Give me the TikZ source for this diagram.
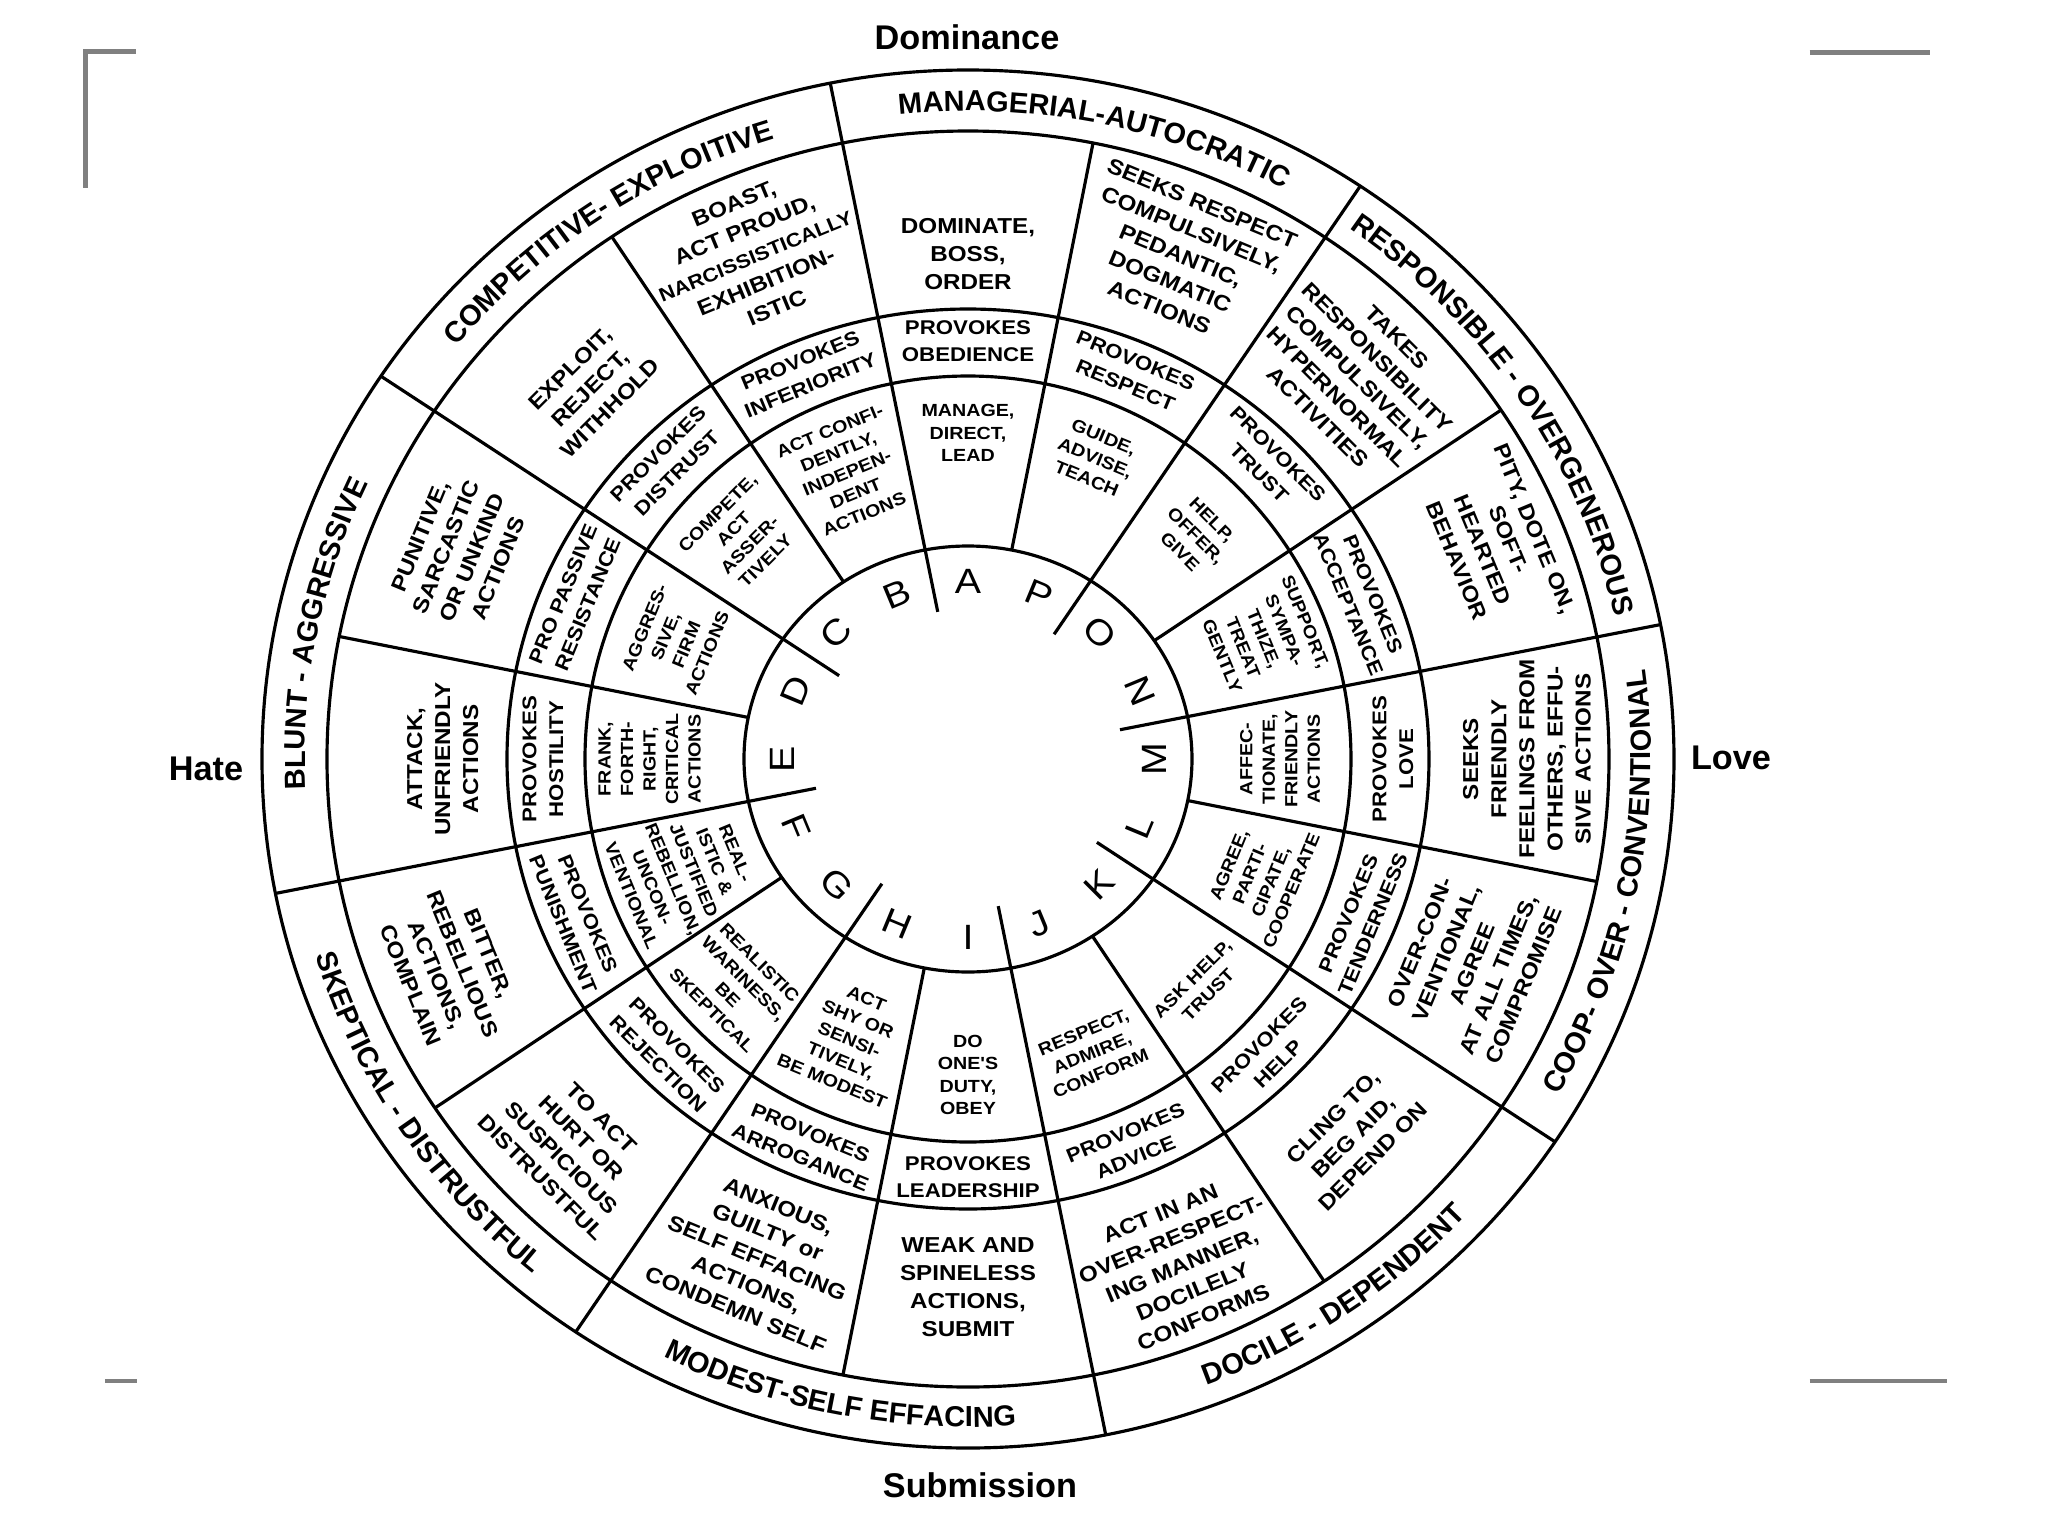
\documentclass[tikz,border=0pt]{standalone}
\usepackage{fontspec}
\setmainfont{Liberation Sans}
\newfontfamily\lettering[FakeStretch=1.12]{Liberation Sans}
\usetikzlibrary{decorations.text}

\newcommand\midfont{\fontsize{12.3}{16}\lettering\bfseries}
\newcommand\provfont{\fontsize{11.3}{15.2}\lettering\bfseries}
\newcommand\innfont{\fontsize{10}{12.8}\lettering\bfseries}
\newcommand\ringfont{\fontsize{16.5}{16.5}\selectfont\bfseries}
\newcommand\keyfont{\fontsize{20}{20}\lettering}
\newcommand\axisfont{\fontsize{19.5}{19.5}\selectfont\bfseries}

\begin{document}
\begin{tikzpicture}[x=0.02cm,y=0.02cm,
  ring/.style={line width=1.8pt},
  cropmark/.style={draw=gray,line width=2.3pt},
  midtext/.style={font=\midfont,align=center,inner sep=0pt},
  provtext/.style={font=\provfont,align=center,inner sep=0pt},
  inntext/.style={font=\innfont,align=center,inner sep=0pt},
  ringlabel/.style={decorate,decoration={text along path,text align=center}}]
\useasboundingbox (-968,-777) rectangle (1080,759);

% circles and spokes
\draw[ring] (0,0) ellipse[x radius=224,y radius=213];
\draw[ring] (0,0) ellipse[x radius=383,y radius=383];
\draw[ring] (0,0) ellipse[x radius=461,y radius=450];
\draw[ring] (0,0) ellipse[x radius=641,y radius=628];
\draw[ring] (0,0) ellipse[x radius=706,y radius=689];
\foreach \a in {11.25,56.25,...,326.25} \draw[ring] (\a:155 and 150) -- (\a:706 and 689);
\foreach \a in {33.75,78.75,...,348.75} \draw[ring] (\a:224 and 213) -- (\a:641 and 628);

% octant names (top half clockwise, bottom half anticlockwise)
\path[ringlabel,decoration={text={|\ringfont|MANAGERIAL-AUTOCRATIC}}] (101.25:663 and 648) arc[start angle=101.25,end angle=56.25,x radius=663,y radius=648];
\path[ringlabel,decoration={text={|\ringfont|COMPETITIVE- EXPLOITIVE}}] (146.25:663 and 648) arc[start angle=146.25,end angle=101.25,x radius=663,y radius=648];
\path[ringlabel,decoration={text={|\ringfont|BLUNT - AGGRESSIVE}}] (191.25:663 and 648) arc[start angle=191.25,end angle=146.25,x radius=663,y radius=648];
\path[ringlabel,decoration={text={|\ringfont|SKEPTICAL - DISTRUSTFUL}}] (191.25:683 and 668) arc[start angle=191.25,end angle=236.25,x radius=683,y radius=668];
\path[ringlabel,decoration={text={|\ringfont|MODEST-SELF EFFACING}}] (236.25:683 and 668) arc[start angle=236.25,end angle=281.25,x radius=683,y radius=668];
\path[ringlabel,decoration={text={|\ringfont|DOCILE - DEPENDENT}}] (281.25:683 and 668) arc[start angle=281.25,end angle=326.25,x radius=683,y radius=668];
\path[ringlabel,decoration={text={|\ringfont|COOP- OVER - CONVENTIONAL}}] (326.25:683 and 668) arc[start angle=326.25,end angle=371.25,x radius=683,y radius=668];
\path[ringlabel,decoration={text={|\ringfont|RESPONSIBLE - OVERGENEROUS}}] (56.25:663 and 648) arc[start angle=56.25,end angle=11.25,x radius=663,y radius=648];

% outer statements
\foreach \a/\rad/\txt [count=\i] in {
  90/505/{DOMINATE,\\BOSS,\\ORDER},
  67.5/545/{SEEKS RESPECT\\COMPULSIVELY,\\PEDANTIC,\\DOGMATIC\\ACTIONS},
  45/540/{TAKES\\RESPONSIBILITY\\COMPULSIVELY,\\HYPERNORMAL\\ACTIVITIES},
  22.5/560/{PITY, DOTE ON,\\SOFT-\\HEARTED\\BEHAVIOR},
  0/548/{SEEKS\\FRIENDLY\\FEELINGS FROM\\OTHERS, EFFU-\\SIVE ACTIONS},
  337.5/535/{OVER-CON-\\VENTIONAL,\\AGREE\\AT ALL TIMES,\\COMPROMISE},
  315/534/{CLING TO,\\BEG AID,\\DEPEND ON},
  292.5/548/{ACT IN AN\\OVER-RESPECT-\\ING MANNER,\\DOCILELY\\CONFORMS},
  270/528/{WEAK AND\\SPINELESS\\ACTIONS,\\SUBMIT},
  247.5/540/{ANXIOUS,\\GUILTY or\\SELF EFFACING\\ACTIONS,\\CONDEMN SELF},
  225/550/{TO ACT\\HURT OR\\SUSPICIOUS\\DISTRUSTFUL},
  202.5/550/{BITTER,\\REBELLIOUS\\ACTIONS,\\COMPLAIN},
  180/515/{ATTACK,\\UNFRIENDLY\\ACTIONS},
  157.5/540/{PUNITIVE,\\SARCASTIC\\OR UNKIND\\ACTIONS},
  135/524/{EXPLOIT,\\REJECT,\\WITHHOLD},
  112.5/545/{BOAST,\\ACT PROUD,\\{\fontsize{11}{16}\selectfont NARCISSISTICALLY}\\EXHIBITION-\\ISTIC}}
{\pgfmathsetmacro\rot{and(\a>1,\a<181) ? \a-90 : \a+90}
 \node[midtext,rotate=\rot] (mid\i) at ({\a}:{1.02*\rad} and {\rad}) {\txt};}

% provoked responses
\foreach \a/\txt [count=\i] in {
  90/{PROVOKES\\OBEDIENCE}, 67.5/{PROVOKES\\RESPECT}, 45/{PROVOKES\\TRUST},
  22.5/{PROVOKES\\ACCEPTANCE}, 0/{PROVOKES\\LOVE}, 337.5/{PROVOKES\\TENDERNESS},
  315/{PROVOKES\\HELP}, 292.5/{PROVOKES\\ADVICE}, 270/{PROVOKES\\LEADERSHIP},
  247.5/{PROVOKES\\ARROGANCE}, 225/{PROVOKES\\REJECTION}, 202.5/{PROVOKES\\PUNISHMENT},
  180/{PROVOKES\\HOSTILITY}, 157.5/{PRO PASSIVE\\RESISTANCE}, 135/{PROVOKES\\DISTRUST},
  112.5/{PROVOKES\\INFERIORITY}}
{\pgfmathsetmacro\rot{and(\a>1,\a<181) ? \a-90 : \a+90}
 \node[provtext,rotate=\rot] (prov\i) at ({\a}:425 and 418) {\txt};}

% inner behaviours
\foreach \a/\rad/\txt [count=\i] in {
  90/326/{MANAGE,\\DIRECT,\\LEAD},
  67.5/326/{GUIDE,\\ADVISE,\\TEACH},
  45/316/{HELP,\\OFFER,\\GIVE},
  22.5/314/{SUPPORT,\\SYMPA-\\THIZE,\\TREAT\\GENTLY},
  0/306/{AFFEC-\\TIONATE,\\FRIENDLY\\ACTIONS},
  337.5/310/{AGREE,\\PARTI-\\CIPATE,\\COOPERATE},
  315/322/{ASK HELP,\\TRUST},
  292.5/318/{RESPECT,\\ADMIRE,\\CONFORM},
  270/316/{DO\\ONE'S\\DUTY,\\OBEY},
  247.5/304/{ACT\\SHY OR\\SENSI-\\TIVELY,\\BE MODEST},
  225/322/{REALISTIC\\WARINESS,\\BE\\SKEPTICAL},
  202.5/302/{REAL-\\ISTIC \&\\JUSTIFIED\\REBELLION,\\UNCON-\\VENTIONAL},
  180/312/{FRANK,\\FORTH-\\RIGHT,\\CRITICAL\\ACTIONS},
  157.5/310/{AGGRES-\\SIVE,\\FIRM\\ACTIONS},
  135/314/{COMPETE,\\ACT\\ASSER-\\TIVELY},
  112.5/310/{ACT CONFI-\\DENTLY,\\INDEPEN-\\DENT\\ACTIONS}}
{\pgfmathsetmacro\rot{and(\a>1,\a<181) ? \a-90 : \a+90}
 \node[inntext,rotate=\rot] (inn\i) at ({\a}:{1.02*\rad} and {\rad}) {\txt};}

% octant letters
\foreach \l [count=\i from 0] in {A,B,...,P}
{\pgfmathsetmacro\ang{mod(90+22.5*\i,360)}
 \pgfmathsetmacro\rot{and(\ang>1,\ang<181) ? \ang-90 : \ang+90}
 \node[font=\keyfont,inner sep=0pt,rotate=\rot] (key\l) at ({\ang}:186 and 178) {\l};}

% axes
\node[font=\axisfont] (dom) at (-1,722) {Dominance};
\node[font=\axisfont] (sub) at (12,-726) {Submission};
\node[font=\axisfont] (hate) at (-762,-10) {Hate};
\node[font=\axisfont] (love) at (763,1) {Love};

% crop marks
\draw[cropmark] (-882.5,571.5) -- (-882.5,707.5) -- (-831.5,707.5);
\draw[cropmark] (841.5,706.5) -- (961.5,706.5);
\draw[cropmark] (-863,-622) -- (-830.5,-622);
\draw[cropmark] (841.5,-622) -- (978.5,-622);
\end{tikzpicture}
\end{document}
